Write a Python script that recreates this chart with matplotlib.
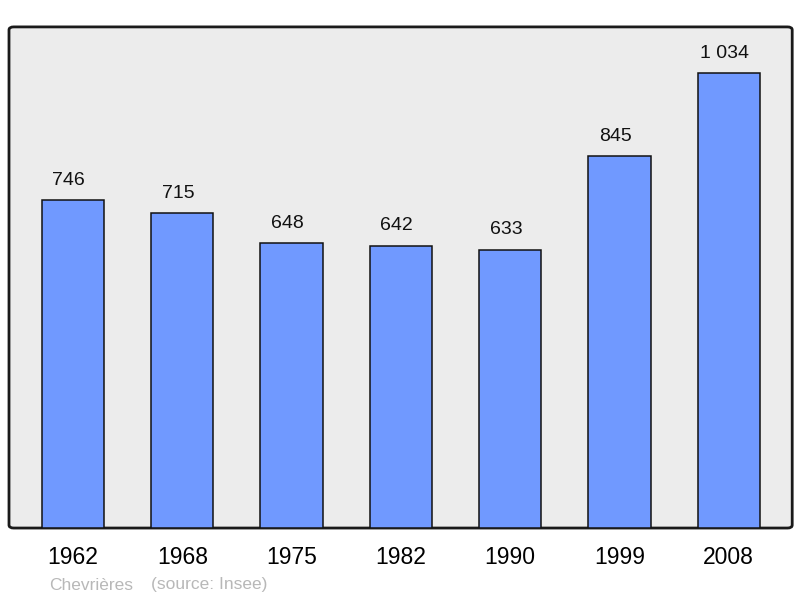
import matplotlib
matplotlib.use("Agg")
import matplotlib.pyplot as plt
from matplotlib.patches import FancyBboxPatch

plt.rcParams['font.family'] = ['Liberation Sans', 'DejaVu Sans']

years = ["1962", "1968", "1975", "1982", "1990", "1999", "2008"]
population = [746, 715, 648, 642, 633, 845, 1034]
value_labels = ["746", "715", "648", "642", "633", "845", "1 034"]

fig = plt.figure(figsize=(8, 5.98), dpi=100)
ax = fig.add_axes([0.01125, 0.117, 0.979, 0.838])

ax.set_xlim(-0.585, 6.58)
ax.set_ylim(0, 1139)

for s in ax.spines.values():
	s.set_visible(False)
ax.patch.set_visible(False)

# rounded grey frame
frame = FancyBboxPatch((0, 0), 1, 1, boxstyle="round,pad=0,rounding_size=0.006",
	transform=ax.transAxes, facecolor="#ececec", edgecolor="#1a1a1a",
	linewidth=2, zorder=0, clip_on=False)
ax.add_patch(frame)

x = range(len(years))
ax.bar(x, population, width=0.57, color="#7099ff", edgecolor="#111111",
	linewidth=1.1, zorder=2)

for i, v in enumerate(population):
	ax.annotate(value_labels[i], (i, v), xytext=(-3, 8), textcoords="offset points",
		ha="center", va="bottom", fontsize=14, color="#111111")

ax.set_xticks(list(x))
ax.set_xticklabels(years, fontsize=16.5)
ax.tick_params(axis="x", length=0, pad=13)
ax.set_yticks([])

fig.text(49/800, 1 - 585/598, "Chevrières", fontsize=12.5, color="#b8b8b8", va="center", ha="left")
fig.text(151/800, 1 - 585/598, "(source: Insee)", fontsize=12.5, color="#b8b8b8", va="center", ha="left")

fig.savefig("out.png", dpi=100)
